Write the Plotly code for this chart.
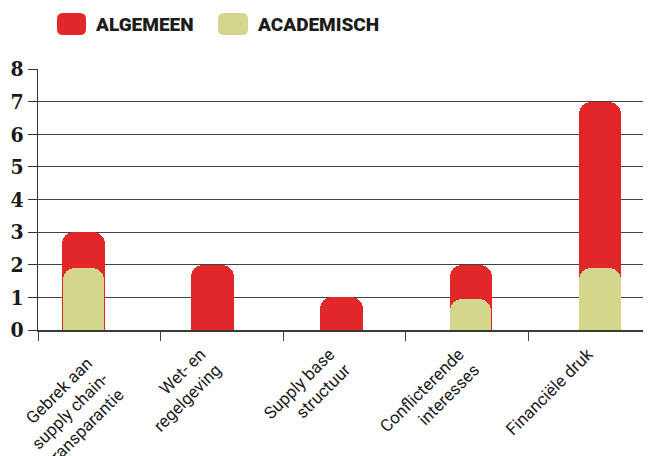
import plotly.graph_objects as go

categories = ["Gebrek aan<br>supply chain-<br>transparantie", "Wet- en<br>regelgeving",
              "Supply base<br>structuur", "Conflicterende<br>interesses", "Financiële druk"]
algemeen = [3, 2, 1, 2, 7]
academisch = [1.9, 0, 0, 0.95, 1.9]
series_names = ["ALGEMEEN", "ACADEMISCH"]
y_ticks = [0, 1, 2, 3, 4, 5, 6, 7, 8]

RED = "#E2272B"
GREEN = "#D4D68C"

OFF = 8  # page body margin
W, H = 651 - OFF, 456 - OFF
L, R, T = 38 - OFF, 0, 69 - OFF
B = H - (330 - OFF)
PW, PH = W - L - R, H - T - B

idx = list(range(len(categories)))

fig = go.Figure()
fig.add_trace(go.Bar(x=idx, y=algemeen, name=series_names[0],
                     marker=dict(color=RED, line_width=0, cornerradius=12),
                     width=0.33, xaxis="x", yaxis="y"))
fig.add_trace(go.Bar(x=idx, y=[v if v else None for v in academisch], name=series_names[1],
                     marker=dict(color=GREEN, line_width=0, cornerradius=12),
                     width=0.32, xaxis="x3", yaxis="y"))
# invisible trace so the boundary-tick axis is drawn
fig.add_trace(go.Scatter(x=idx, y=[None] * len(idx), xaxis="x2", yaxis="y",
                         mode="markers", showlegend=False, hoverinfo="skip"))

def px_x(px):
    return (px - OFF - L) / PW

def px_y(py):
    return (H + OFF - B - py) / PH

def rounded(x0, y0, x1, y1, r):
    rx, ry = r / PW, r / PH
    X0, X1 = px_x(x0), px_x(x1)
    Y0, Y1 = px_y(y1), px_y(y0)
    return (f"M {X0+rx},{Y0} L {X1-rx},{Y0} Q {X1},{Y0} {X1},{Y0+ry} "
            f"L {X1},{Y1-ry} Q {X1},{Y1} {X1-rx},{Y1} L {X0+rx},{Y1} "
            f"Q {X0},{Y1} {X0},{Y1-ry} L {X0},{Y0+ry} Q {X0},{Y0} {X0+rx},{Y0} Z")

shapes = [
    dict(type="path", xref="paper", yref="paper", path=rounded(57, 13, 86, 35, 6),
         fillcolor=RED, line_width=0),
    dict(type="path", xref="paper", yref="paper", path=rounded(218, 13, 248, 35, 6),
         fillcolor=GREEN, line_width=0),
]
legend_font = dict(family="Roboto", size=19, color="#1c1c1c", weight=900)
annotations = [
    dict(x=px_x(93), y=px_y(25), xref="paper", yref="paper", text=series_names[0],
         showarrow=False, xanchor="left", yanchor="middle", font=legend_font),
    dict(x=px_x(255), y=px_y(25), xref="paper", yref="paper", text=series_names[1],
         showarrow=False, xanchor="left", yanchor="middle", font=legend_font),
]

bar_left_px = 45.5
bar_step_px = 129.1
x0 = -bar_left_px / bar_step_px
x1 = x0 + PW / bar_step_px

label_font = dict(family="Roboto", size=17, color="#1c1c1c")

fig.update_layout(
    width=W, height=H,
    margin=dict(l=L, r=R, t=T, b=B, pad=0, autoexpand=False),
    paper_bgcolor="white", plot_bgcolor="white",
    barmode="overlay", bargap=0,
    showlegend=False,
    shapes=shapes, annotations=annotations,
    # labels of categories 2..5
    xaxis=dict(range=[x0, x1], tickmode="array", tickvals=idx[1:], ticktext=categories[1:],
               tickangle=-45, ticks="", showgrid=False, zeroline=False,
               showline=False, automargin=False, ticklabeloverflow="allow",
               ticklabelshift=-12, ticklabelstandoff=10, tickfont=label_font),
    # axis of the green bars, also carries the (three-line) first label
    xaxis3=dict(overlaying="x", anchor="y", matches="x", side="bottom",
                tickmode="array", tickvals=idx[:1], ticktext=categories[:1],
                tickangle=-45, ticks="", showgrid=False, zeroline=False, showline=False,
                automargin=False, ticklabeloverflow="allow",
                ticklabelshift=4, ticklabelstandoff=19, tickfont=label_font),
    xaxis2=dict(overlaying="x", anchor="y", side="bottom", range=[-0.5, len(categories) - 0.5],
                showticklabels=False, ticks="", showgrid=False, zeroline=False,
                automargin=False,
                showline=True, linecolor="#3a3a3a", linewidth=1.5,
                minor=dict(tickvals=[i - 0.5 for i in range(len(categories) + 1)],
                           ticks="outside", ticklen=9, tickcolor="#444", tickwidth=1.3,
                           showgrid=False)),
    yaxis=dict(range=[0, 8], tickvals=y_ticks, ticks="outside", ticklen=9,
               tickcolor="#333", tickwidth=1.2, automargin=False,
               showgrid=True, gridcolor="#444", gridwidth=1.1, zeroline=False,
               showline=True, linecolor="#333", linewidth=1.2,
               tickfont=dict(family="DejaVu Serif Condensed, DejaVu Serif", size=21,
                             color="#1a1a1a", weight="bold")),
)

fig.write_html("out.html")
